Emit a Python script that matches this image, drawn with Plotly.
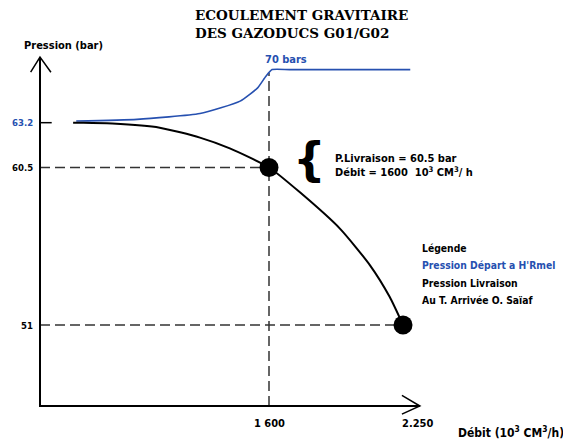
import plotly.graph_objects as go

# ---- data ----
debit_livraison = [650, 700, 840, 1070, 1265, 1410, 1600, 1750, 1945, 2090, 2185, 2250]
pression_livraison = [63.2, 63.2, 63.15, 62.9, 62.3, 61.65, 60.5, 59.0, 56.8, 54.6, 52.7, 51.0]
debit_depart = [665, 960, 1265, 1460, 1545, 1585, 1615, 1700, 2000, 2285]
pression_depart = [63.3, 63.4, 63.75, 64.5, 65.3, 66.0, 66.4, 66.4, 66.4, 66.4]
points_x = [1600, 2250]
points_y = [60.5, 51.0]
x_ticks = [1600, 2250]
x_tick_text = ["1 600", "2.250"]
y_ticks = [63.2, 60.5, 51.0]
y_tick_text = ["63.2", "60.5", "51"]
y_tick_colors = ["#2650b0", "black", "black"]
legend_lines = ["Légende", "Pression Départ a H'Rmel", "Pression Livraison", "Au T. Arrivée O. Saïaf"]
legend_colors = ["black", "#2650b0", "black", "black"]

BLUE = "#2650b0"
FONT = "DejaVu Sans Condensed, DejaVu Sans, sans-serif"
XR = [489.4, 2380.8]
YR = [46.12, 67.28]

fig = go.Figure()
fig.add_trace(go.Scatter(x=debit_depart, y=pression_depart, mode="lines",
                         line=dict(color=BLUE, width=1.6, shape="spline", smoothing=0.5),
                         hoverinfo="skip", showlegend=False))
fig.add_trace(go.Scatter(x=debit_livraison, y=pression_livraison, mode="lines",
                         line=dict(color="black", width=2, shape="spline", smoothing=0.6),
                         hoverinfo="skip", showlegend=False))
fig.add_trace(go.Scatter(x=points_x, y=points_y, mode="markers",
                         marker=dict(color="black", size=19), cliponaxis=False,
                         hoverinfo="skip", showlegend=False))

shapes = []
dash = dict(color="#333", width=1.5, dash="10px,5px")
for px_, py_ in zip(points_x, points_y):
    shapes.append(dict(type="line", xref="x", yref="y", x0=XR[0], x1=px_, y0=py_, y1=py_,
                       line=dash, layer="below"))
shapes.append(dict(type="line", xref="x", yref="y", x0=points_x[0], x1=points_x[0],
                   y0=YR[0], y1=max(pression_depart) - 0.2, line=dash, layer="below"))
ax = dict(color="black", width=2)
shapes.append(dict(type="line", xref="paper", yref="paper", x0=0, x1=0, y0=-0.003, y1=0.994, line=ax))
shapes.append(dict(type="line", xref="paper", yref="paper", x0=0, x1=0.974, y0=0, y1=0, line=ax))
shapes.append(dict(type="path", xref="paper", yref="paper",
                   path="M -0.024,0.951 L 0,0.994 L 0.028,0.951", line=dict(color="black", width=1.5)))
shapes.append(dict(type="path", xref="paper", yref="paper",
                   path="M 0.928,0.03 L 0.974,0 L 0.928,-0.023", line=dict(color="black", width=1.5)))
shapes.append(dict(type="line", xref="paper", yref="y", x0=0, x1=0.03, y0=y_ticks[0], y1=y_ticks[0],
                   line=dict(color="black", width=1.5)))

ann = []
for v, t, c in zip(y_ticks, y_tick_text, y_tick_colors):
    ann.append(dict(x=-0.016, xref="paper", y=v, yref="y", text="<b>%s</b>" % t, showarrow=False,
                    xanchor="right", yanchor="middle", borderpad=0,
                    font=dict(family=FONT, size=9.5, color=c)))
for v, t, s in zip(x_ticks, x_tick_text, [0, 14]):
    ann.append(dict(x=v, xref="x", y=-0.025, yref="paper", text="<b>%s</b>" % t, showarrow=False,
                    xanchor="center", yanchor="top", xshift=s, font=dict(family=FONT, size=11, color="black")))
for i, (t, c) in enumerate(zip(legend_lines, legend_colors)):
    ann.append(dict(x=0.977, xref="paper", y=0.45 - i * 0.0495, yref="paper", text="<b>%s</b>" % t,
                    showarrow=False, xanchor="left", yanchor="middle", borderpad=0,
                    font=dict(family=FONT, size=10.3, color=c)))

ann += [
    dict(x=-0.046, xref="paper", y=1.028, yref="paper", text="<b>Pression (bar)</b>", showarrow=False,
         xanchor="left", yanchor="middle", font=dict(family=FONT, size=11, color="black")),
    dict(x=1.066, xref="paper", y=-0.075, yref="paper", text="<b>Débit (10<sup>3</sup> CM<sup>3</sup>/h)</b>",
         showarrow=False, xanchor="left", yanchor="middle", font=dict(family=FONT, size=12, color="black")),
    dict(x=0.392, xref="paper", y=1.088, yref="paper",
         text="<b>ECOULEMENT GRAVITAIRE<br>DES GAZODUCS G01/G02</b>", showarrow=False, align="left",
         xanchor="left", yanchor="middle", font=dict(family="DejaVu Serif", size=13.5, color="black")),
    dict(x=points_x[0], xref="x", y=max(pression_depart), yref="y", text="<b>70 bars</b>", showarrow=False,
         xanchor="left", yanchor="bottom", xshift=-6, yshift=2, font=dict(family=FONT, size=11, color=BLUE)),
    dict(x=0.69, xref="paper", y=60.5, yref="y", text="<b>{</b>", showarrow=False, xanchor="center",
         yanchor="middle", font=dict(family="DejaVu Sans", size=46, color="black"), yshift=8),
    dict(x=0.75, xref="paper", y=60.5, yref="y",
         text="<b>P.Livraison = 60.5 bar<br>Débit = 1600  10<sup>3</sup> CM<sup>3</sup>/ h</b>",
         showarrow=False, align="left", xanchor="left", yanchor="middle", yshift=2,
         font=dict(family=FONT, size=11, color="black")),
]

fig.update_layout(
    width=563, height=436, margin=dict(l=32, r=141, t=47, b=38),
    paper_bgcolor="white", plot_bgcolor="white",
    xaxis=dict(range=XR, visible=False, fixedrange=True),
    yaxis=dict(range=YR, visible=False, fixedrange=True),
    shapes=shapes, annotations=ann, showlegend=False,
)
fig.write_html("out.html")
